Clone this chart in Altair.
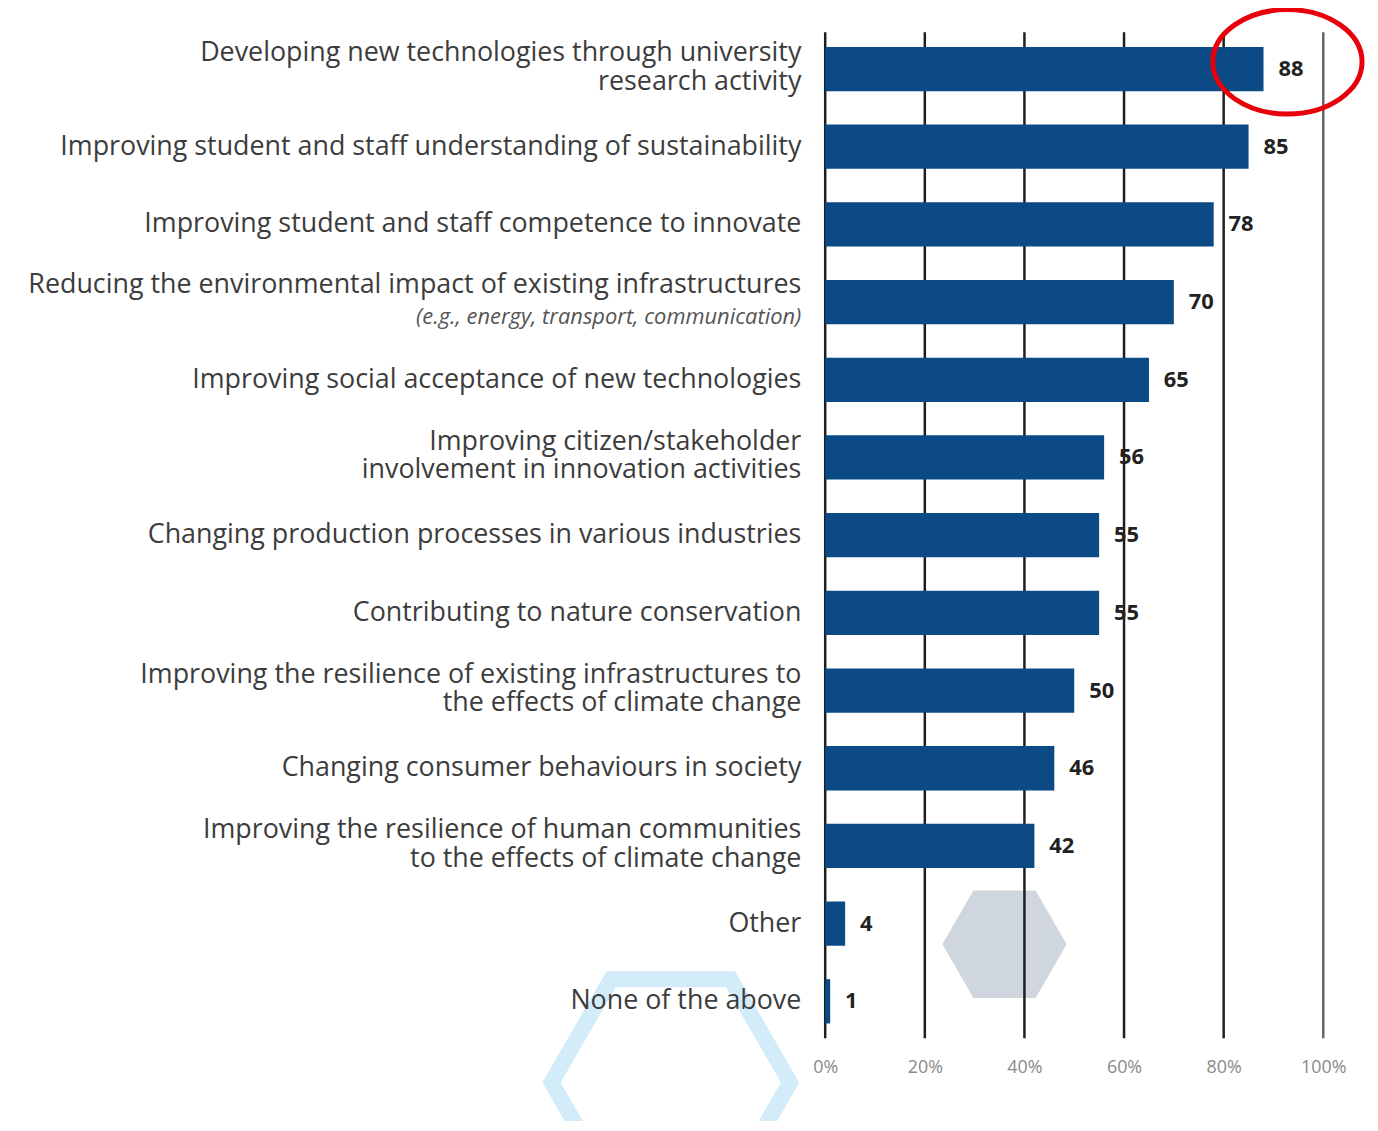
import altair as alt
import pandas as pd

labels = [
    "Developing new technologies through university|research activity",
    "Improving student and staff understanding of sustainability",
    "Improving student and staff competence to innovate",
    "Reducing the environmental impact of existing infrastructures",
    "Improving social acceptance of new technologies",
    "Improving citizen/stakeholder|involvement in innovation activities",
    "Changing production processes in various industries",
    "Contributing to nature conservation",
    "Improving the resilience of existing infrastructures to|the effects of climate change",
    "Changing consumer behaviours in society",
    "Improving the resilience of human communities|to the effects of climate change",
    "Other",
    "None of the above",
]
values = [88, 85, 78, 70, 65, 56, 55, 55, 50, 46, 42, 4, 1]
note_index = 3
note_text = "(e.g., energy, transport, communication)"
grid_values = [0, 20, 40, 60, 80, 100]

keys = [f"k{i:02d}" for i in range(len(labels))]
df = pd.DataFrame({"key": keys, "label": labels, "value": values})
is_multi = df["label"].str.contains("|", regex=False)
single_df = df[(~is_multi) & (df["key"] != keys[note_index])]
multi_df = df[is_multi]
noted_df = df[df["key"] == keys[note_index]]
notes = pd.DataFrame({"key": [keys[note_index]], "note": [note_text]})
grid = pd.DataFrame({"v": grid_values})
circle_df = pd.DataFrame({"key": [keys[0]], "v": [92.8]})
hex_grey = pd.DataFrame({"key": [keys[11]], "v": [36]})
hex_blue = pd.DataFrame({"key": [keys[12]], "v": [-31]})

W, H = 501, 1012
FONT = "Open Sans"
LSIZE = 27
LCOLOR = "#3c3c3c"

yscale = alt.Scale(domain=keys, paddingInner=0.43, paddingOuter=0.19)
xscale = alt.Scale(domain=[0, 100], nice=False, zero=True)
Y = alt.Y("key:N", scale=yscale, axis=None)

HEX = "M-1,0 L-0.5,-0.866 L0.5,-0.866 L1,0 L0.5,0.866 L-0.5,0.866 Z"
ELL = ("M-1.43,0 C-1.43,-0.5523 -0.7898,-1 0,-1 C0.7898,-1 1.43,-0.5523 1.43,0 "
       "C1.43,0.5523 0.7898,1 0,1 C-0.7898,1 -1.43,0.5523 -1.43,0 Z")

base_x_axis = alt.Axis(
    values=grid_values, labelExpr="datum.value + '%'", title=None,
    ticks=False, domain=False, grid=False, labelPadding=20, labelFlush=False,
    labelFont=FONT, labelFontSize=18, labelColor="#8a8a8a",
)

hexg = alt.Chart(hex_grey).mark_point(
    shape=HEX, size=15625, filled=True, color="#cfd6dd", opacity=1
).encode(x=alt.X("v:Q", scale=xscale, axis=base_x_axis), y=Y,
         yOffset=alt.YOffset(value=43))

hexb = alt.Chart(hex_blue).mark_point(
    shape=HEX, size=57600, filled=False, stroke="#d3ecfa", strokeWidth=16, opacity=1
).encode(x=alt.X("v:Q", scale=xscale), y=Y, yOffset=alt.YOffset(value=104))

rules = alt.Chart(grid).mark_rule(strokeWidth=2.5).encode(
    x=alt.X("v:Q", scale=xscale),
    y=alt.value(0), y2=alt.value(H),
    color=alt.condition("datum.v == 100", alt.value("#666666"), alt.value("#1e1e1e")),
)

bars = alt.Chart(df).mark_bar(color="#0b4a84").encode(
    x=alt.X("value:Q", scale=xscale), y=Y,
)

vals = alt.Chart(df).mark_text(
    align="left", baseline="middle", dx=15, font=FONT, fontSize=22,
    fontWeight="bold", color="#222222"
).encode(x=alt.X("value:Q", scale=xscale), y=Y, text="value:Q")

cats = alt.Chart(single_df).mark_text(
    align="right", baseline="middle", font=FONT, fontSize=LSIZE, color=LCOLOR
).encode(x=alt.value(-24), y=Y, text="label:N")

cats_multi = alt.Chart(multi_df).mark_text(
    align="right", baseline="middle", font=FONT, fontSize=LSIZE, color=LCOLOR,
    lineBreak="|", lineHeight=29, dy=-16
).encode(x=alt.value(-24), y=Y, text="label:N")

cats_noted = alt.Chart(noted_df).mark_text(
    align="right", baseline="middle", font=FONT, fontSize=LSIZE, color=LCOLOR, dy=-17
).encode(x=alt.value(-24), y=Y, text="label:N")

note = alt.Chart(notes).mark_text(
    align="right", baseline="middle", font=FONT, fontSize=22, fontStyle="italic",
    color="#555555", dy=15
).encode(x=alt.value(-24), y=Y, text="note:N")

ring = alt.Chart(circle_df).mark_point(
    shape=ELL, size=11025, filled=False, stroke="#e8000b", strokeWidth=5, opacity=1
).encode(x=alt.X("v:Q", scale=xscale), y=Y, yOffset=alt.YOffset(value=15))

chart = alt.layer(hexg, hexb, rules, bars, vals, cats, cats_multi, cats_noted, note, ring).properties(
    width=W, height=H,
    autosize=alt.AutoSizeParams(type="none"),
    padding={"left": 822, "top": 21, "right": 47, "bottom": 80},
    background="white",
).configure_view(stroke=None)

chart.save("out.html", embed_options={"renderer": "svg", "actions": False})
